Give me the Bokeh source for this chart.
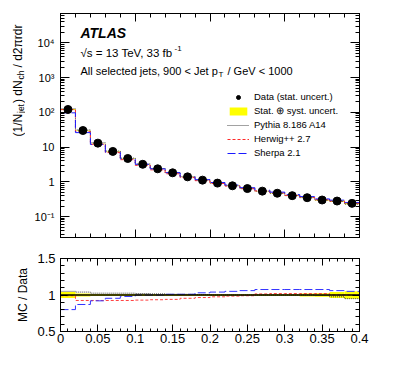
import numpy as np
from bokeh.plotting import figure
from bokeh.layouts import column, row
from bokeh.core.properties import value
from bokeh.models import (Range1d, FixedTicker, SingleIntervalTicker, LinearAxis, LogAxis,
                          CustomJSTickFormatter, Label, Legend, LegendItem, Span)
from bokeh.embed import file_html
from bokeh.resources import INLINE

# ---------------- data ----------------
bin_low = [0.00, 0.02, 0.04, 0.06, 0.08, 0.10, 0.12, 0.14, 0.16, 0.18,
           0.20, 0.22, 0.24, 0.26, 0.28, 0.30, 0.32, 0.34, 0.36, 0.38]
bin_high = [0.02, 0.04, 0.06, 0.08, 0.10, 0.12, 0.14, 0.16, 0.18, 0.20,
            0.22, 0.24, 0.26, 0.28, 0.30, 0.32, 0.34, 0.36, 0.38, 0.40]
data = [121, 30, 13, 7.5, 4.7, 3.2, 2.37, 1.82, 1.39, 1.12,
        0.92, 0.77, 0.64, 0.54, 0.47, 0.40, 0.35, 0.30, 0.28, 0.24]
rel_unc = [0.04, 0.02, 0.015, 0.015, 0.015, 0.015, 0.015, 0.015, 0.015, 0.015,
           0.015, 0.015, 0.015, 0.015, 0.015, 0.015, 0.02, 0.025, 0.04, 0.05]
pythia_ratio = [1.05, 1.04, 1.025, 1.025, 1.025, 1.02, 1.015, 1.01, 1.01, 1.005,
                1.0, 1.0, 1.0, 1.0, 1.0, 1.0, 1.0, 0.995, 0.975, 0.95]
herwig_ratio = [0.99, 0.925, 0.925, 0.925, 0.925, 0.93, 0.935, 0.94, 0.955, 0.965,
                0.975, 0.985, 0.99, 1.015, 1.02, 1.02, 1.02, 1.02, 1.0, 1.0]
sherpa_ratio = [0.80, 0.87, 0.92, 0.955, 0.98, 1.0, 1.0, 1.01, 1.01, 1.03,
                1.04, 1.05, 1.06, 1.075, 1.075, 1.075, 1.075, 1.075, 1.06, 1.05]
y_major_ticks = [0.1, 1, 10, 100, 1000, 10000]
ytitle_parts = ["(1/N", "jet", ") dN", "ch", "/ d2\u03c0rdr"]

FONT = "Liberation Sans"
PY_COL, HW_COL, SH_COL = "#444444", "#ff2a2a", "#1a1aff"
PY_DASH, HW_DASH, SH_DASH = "1 1", "3 2", "8 3"

d = np.array(data)
u = np.array(rel_unc)
centers = (np.array(bin_low) + np.array(bin_high)) / 2


def step_xy(vals):
    xs, ys = [], []
    for lo, hi, v in zip(bin_low, bin_high, vals):
        xs += [lo, hi]
        ys += [v, v]
    return xs, ys


def style_axis(ax, major=8, minor=4):
    ax.major_tick_in = major
    ax.major_tick_out = 0
    ax.minor_tick_in = minor
    ax.minor_tick_out = 0
    ax.axis_line_color = "black"
    ax.major_tick_line_color = "black"
    ax.minor_tick_line_color = "black"
    ax.major_label_text_font = FONT
    ax.major_label_text_color = "black"
    ax.axis_label_text_font = FONT
    ax.axis_label_text_color = "black"
    ax.axis_label_text_font_style = "normal"


blank = CustomJSTickFormatter(code="return '';")
trim = CustomJSTickFormatter(code="return tick.toFixed(2).replace(/\\.?0+$/, '');")
logfmt = CustomJSTickFormatter(code="""
const e = Math.round(Math.log10(tick));
const sup = {'-':'\u207b','0':'\u2070','1':'\u00b9','2':'\u00b2','3':'\u00b3','4':'\u2074',
             '5':'\u2075','6':'\u2076','7':'\u2077','8':'\u2078','9':'\u2079'};
if (e == 0) return '1';
if (e == 1) return '10';
return '10' + String(e).split('').map(c => sup[c]).join('');
""")

minor_log = [m * 10.0 ** e for e in range(-2, 5) for m in range(2, 10)]

TOP_H = 13 + 224 + 10
TITLE_W = 25

# ---------------- y-title strip (rotated text) ----------------
tfig = figure(frame_width=TITLE_W, frame_height=TOP_H, x_range=Range1d(0, TITLE_W),
              y_range=Range1d(0, TOP_H), output_backend="svg", toolbar_location=None,
              x_axis_location=None, y_axis_location=None, min_border=0)
tfig.grid.visible = False
tfig.outline_line_color = None
y0 = TOP_H - 123
t_y = [y0, y0 + 23.5, y0 + 33.5, y0 + 57, y0 + 69]
t_x = [17, 20, 17, 20, 17]
t_size = ["12px", "8.5px", "12px", "8.5px", "12px"]
tfig.text(x=t_x, y=t_y, text=ytitle_parts, angle=np.pi / 2, text_align="left",
          text_baseline="middle", text_font=value(FONT), text_font_size=t_size, text_color="black")

# ---------------- top panel ----------------
p = figure(frame_width=299, frame_height=224, x_range=Range1d(0, 0.4),
           y_range=Range1d(0.025, 7e4), y_axis_type="log",
           output_backend="svg", toolbar_location=None,
           min_border_left=60 - TITLE_W, min_border_right=30, min_border_top=13, min_border_bottom=10)
p.grid.visible = False
p.outline_line_color = "black"

p.yaxis.ticker = FixedTicker(ticks=y_major_ticks, minor_ticks=minor_log)
p.yaxis.formatter = logfmt
p.yaxis.major_label_text_font_size = "11px"
p.yaxis.major_label_standoff = 6
style_axis(p.yaxis[0], 9, 4)

p.xaxis.ticker = SingleIntervalTicker(interval=0.1, num_minor_ticks=5)
p.xaxis.formatter = blank
p.xaxis.major_label_text_font_size = "0px"
p.xaxis.major_label_standoff = 0
style_axis(p.xaxis[0], 8, 4)

axR = LogAxis(ticker=FixedTicker(ticks=y_major_ticks, minor_ticks=minor_log), formatter=blank,
              major_label_text_font_size="0px", major_label_standoff=0)
style_axis(axR, 9, 4)
p.add_layout(axR, "right")
axT = LinearAxis(ticker=SingleIntervalTicker(interval=0.1, num_minor_ticks=5), formatter=blank,
                 major_label_text_font_size="0px", major_label_standoff=0)
style_axis(axT, 8, 4)
p.add_layout(axT, "above")

band = p.quad(left=bin_low, right=bin_high, bottom=d * (1 - u), top=d * (1 + u),
              fill_color="#ffff00", line_color=None)
x_s, y_s = step_xy(d * np.array(pythia_ratio))
r_py = p.line(x=x_s, y=y_s, line_color=PY_COL, line_dash=PY_DASH, line_width=1)
x_s, y_s = step_xy(d * np.array(herwig_ratio))
r_hw = p.line(x=x_s, y=y_s, line_color=HW_COL, line_dash=HW_DASH, line_width=1)
x_s, y_s = step_xy(d * np.array(sherpa_ratio))
r_sh = p.line(x=x_s, y=y_s, line_color=SH_COL, line_dash=SH_DASH, line_width=1)
r_data = p.scatter(x=centers, y=d, size=8, marker="circle", fill_color="black", line_color="black")

legend = Legend(items=[
    LegendItem(label="Data (stat. uncert.)", renderers=[r_data]),
    LegendItem(label="Stat. \u2295 syst. uncert.", renderers=[band]),
    LegendItem(label="Pythia 8.186 A14", renderers=[r_py]),
    LegendItem(label="Herwig++ 2.7", renderers=[r_hw]),
    LegendItem(label="Sherpa 2.1", renderers=[r_sh]),
], location=(167, 79))
legend.background_fill_alpha = 0
legend.border_line_alpha = 0
legend.label_text_font = FONT
legend.label_text_color = "black"
legend.label_text_font_size = "9.5px"
legend.glyph_width = 22
legend.glyph_height = 10
legend.label_height = 10
legend.spacing = 3
legend.padding = 0
legend.margin = 0
legend.label_standoff = 5
p.add_layout(legend)


def lab(fig, text, x, y, size, **kw):
    fig.add_layout(Label(x=x, y=y, x_units="screen", y_units="screen", text=text,
                         text_font=FONT, text_font_size=size, text_color="black", **kw))


lab(p, "ATLAS", 20, 205, "14px", text_font_style="bold italic", text_baseline="middle")
lab(p, "\u221as = 13 TeV, 33 fb", 20, 185, "11.5px", text_baseline="middle")
lab(p, "-1", 114, 189, "8px", text_baseline="middle")
lab(p, "All selected jets, 900 < Jet p", 20, 167, "11px", text_baseline="middle")
lab(p, "T", 158, 163, "8px", text_baseline="middle")
lab(p, "/ GeV < 1000", 167, 167, "11px", text_baseline="middle")

# ---------------- ratio panel ----------------
p2 = figure(frame_width=299, frame_height=73, x_range=Range1d(0, 0.4), y_range=Range1d(0.5, 1.5),
            output_backend="svg", toolbar_location=None,
            min_border_left=60, min_border_right=30, min_border_top=11, min_border_bottom=40)
p2.grid.visible = False
p2.outline_line_color = "black"

p2.yaxis.ticker = SingleIntervalTicker(interval=0.5, num_minor_ticks=5)
p2.yaxis.formatter = trim
p2.yaxis.major_label_text_font_size = "13px"
p2.yaxis.major_label_standoff = 5
p2.yaxis.axis_label = "MC / Data"
p2.yaxis.axis_label_text_font_size = "12px"
p2.yaxis.axis_label_standoff = 4
style_axis(p2.yaxis[0], 7, 4)

p2.xaxis.ticker = SingleIntervalTicker(interval=0.05, num_minor_ticks=5)
p2.xaxis.formatter = trim
p2.xaxis.major_label_text_font_size = "13px"
p2.xaxis.major_label_standoff = 2
style_axis(p2.xaxis[0], 7, 3)

axR2 = LinearAxis(ticker=SingleIntervalTicker(interval=0.5, num_minor_ticks=5), formatter=blank,
                  major_label_text_font_size="0px", major_label_standoff=0)
style_axis(axR2, 7, 4)
p2.add_layout(axR2, "right")
axT2 = LinearAxis(ticker=SingleIntervalTicker(interval=0.05, num_minor_ticks=5), formatter=blank,
                  major_label_text_font_size="0px", major_label_standoff=0)
style_axis(axT2, 7, 3)
p2.add_layout(axT2, "above")

p2.quad(left=bin_low, right=bin_high, bottom=1 - u, top=1 + u, fill_color="#ffff00", line_color=None)
p2.add_layout(Span(location=1, dimension="width", line_color="black", line_width=1.5))
x_s, y_s = step_xy(pythia_ratio)
p2.line(x=x_s, y=y_s, line_color=PY_COL, line_dash=PY_DASH, line_width=1)
x_s, y_s = step_xy(herwig_ratio)
p2.line(x=x_s, y=y_s, line_color="#ff4040", line_dash=HW_DASH, line_width=1)
x_s, y_s = step_xy(sherpa_ratio)
p2.line(x=x_s, y=y_s, line_color="#3333ff", line_dash=SH_DASH, line_width=1)

lab(p2, "r", 295, -27, "13px", text_align="center", text_baseline="middle")

layout = column(row(tfig, p, spacing=0), p2, spacing=0)
open("out.html", "w").write(file_html(layout, INLINE))
